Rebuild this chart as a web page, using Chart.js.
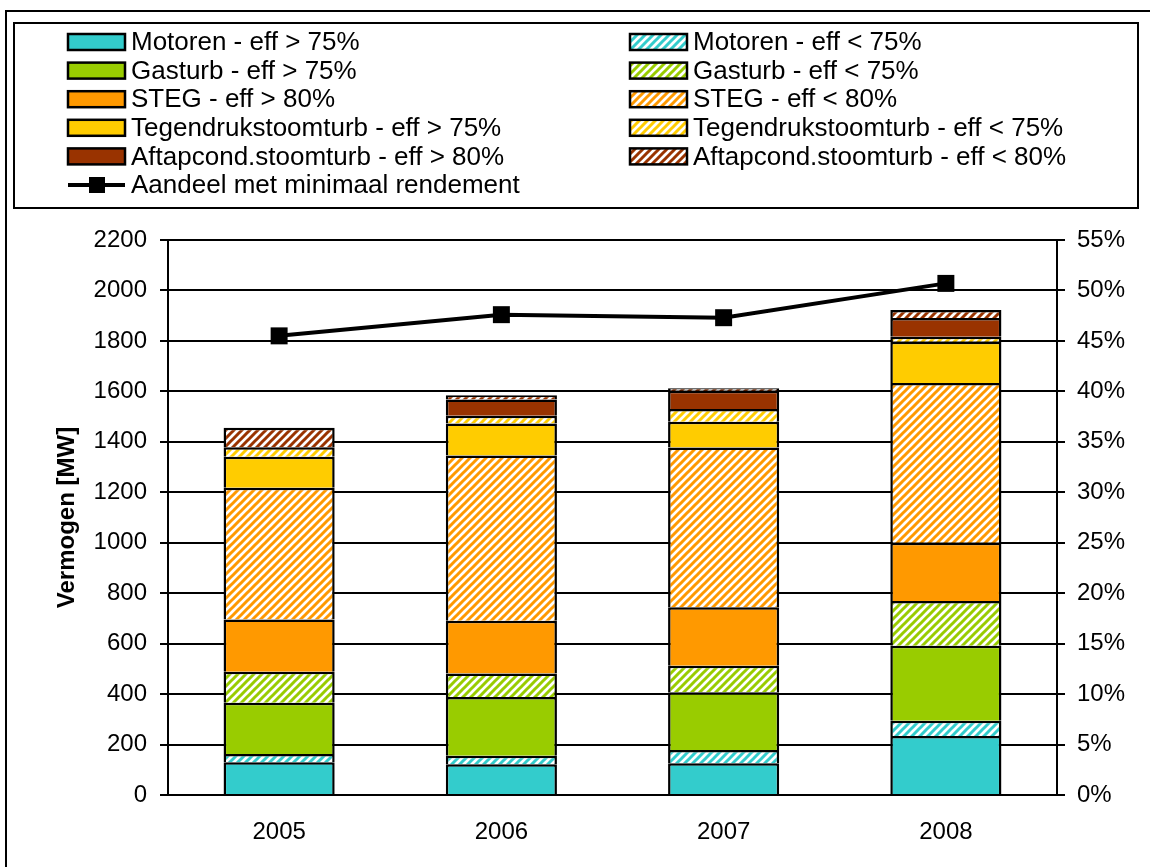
<!DOCTYPE html>
<html><head><meta charset="utf-8">
<script src="https://cdn.jsdelivr.net/npm/chart.js@4/dist/chart.umd.min.js"></script>
<style>html,body{margin:0;padding:0;background:#fff;overflow:hidden}</style>
</head><body>
<canvas id="c" width="1150" height="867" style="display:block;width:1150px;height:867px"></canvas>
<script>
const years = ['2005', '2006', '2007', '2008'];
const motorenHigh = [130, 122, 126, 234];
const motorenLow = [33, 34, 52, 60];
const gasturbHigh = [203, 232, 229, 298];
const gasturbLow = [123, 94, 105, 177];
const stegHigh = [207, 209, 232, 231];
const stegLow = [522, 655, 633, 633];
const tegenHigh = [123, 127, 103, 164];
const tegenLow = [37, 30, 50, 19];
const aftapHigh = [0, 65, 72, 75];
const aftapLow = [78, 17, 10, 32];
const aandeel = [45.5, 47.6, 47.3, 50.7];
const leftAxis = { min: 0, max: 2200, step: 200 };
const rightAxis = { min: 0, max: 55, step: 5 };

const FONT = "'Liberation Sans', Arial, sans-serif";
Chart.defaults.font.family = FONT;
Chart.defaults.color = '#000';

function hatch(color) {
  const s = 8;
  const c = document.createElement('canvas');
  c.width = s; c.height = s;
  const g = c.getContext('2d');
  g.fillStyle = '#fff';
  g.fillRect(0, 0, s, s);
  g.strokeStyle = color;
  g.lineWidth = 3;
  g.lineCap = 'square';
  g.beginPath();
  g.moveTo(-2, s + 2); g.lineTo(s + 2, -2);
  g.moveTo(-2, 2); g.lineTo(2, -2);
  g.moveTo(s - 2, s + 2); g.lineTo(s + 2, s - 2);
  g.stroke();
  return g.createPattern(c, 'repeat');
}
const ctx = document.getElementById('c').getContext('2d');

const C = { cyan: '#33CCCC', green: '#99CC00', orange: '#FF9900', yellow: '#FFCC00', brown: '#993300' };

function barDs(label, data, bg) {
  return { type: 'bar', label, data, backgroundColor: bg, borderColor: '#000', borderWidth: 2.5,
    yAxisID: 'y', stack: 's', order: 1, barPercentage: 0.5, categoryPercentage: 1.0 };
}

const datasets = [
  barDs('Motoren - eff > 75%', motorenHigh, C.cyan),
  barDs('Motoren - eff < 75%', motorenLow, hatch(C.cyan)),
  barDs('Gasturb - eff > 75%', gasturbHigh, C.green),
  barDs('Gasturb - eff < 75%', gasturbLow, hatch(C.green)),
  barDs('STEG - eff > 80%', stegHigh, C.orange),
  barDs('STEG - eff < 80%', stegLow, hatch(C.orange)),
  barDs('Tegendrukstoomturb - eff > 75%', tegenHigh, C.yellow),
  barDs('Tegendrukstoomturb - eff < 75%', tegenLow, hatch(C.yellow)),
  barDs('Aftapcond.stoomturb - eff > 80%', aftapHigh, C.brown),
  barDs('Aftapcond.stoomturb - eff < 80%', aftapLow, hatch(C.brown)),
  { type: 'line', label: 'Aandeel met minimaal rendement', data: aandeel, yAxisID: 'y1', order: 0,
    borderColor: '#000', borderWidth: 4, backgroundColor: '#000', pointStyle: 'rect',
    pointRadius: 12, pointBackgroundColor: '#000', pointBorderColor: '#000', pointBorderWidth: 0,
    tension: 0, fill: false }
];

const framePlugin = {
  id: 'frameLegend',
  afterDraw(chart) {
    const g = chart.ctx;
    g.save();
    g.strokeStyle = '#000';
    g.lineWidth = 2;
    g.strokeRect(6, 11, 1300, 1000);
    g.strokeRect(14, 23, 1124, 185);
    const ds = chart.data.datasets;
    const rowY = i => 42 + i * 28.6;
    g.font = '26px ' + FONT;
    g.textBaseline = 'middle';
    g.fillStyle = '#000';
    for (let i = 0; i < 10; i++) {
      const col = i % 2, row = Math.floor(i / 2);
      const sx = col === 0 ? 68 : 630;
      const y = rowY(row);
      g.fillStyle = ds[i].backgroundColor;
      g.fillRect(sx, y - 8, 57, 16);
      g.lineWidth = 2.5;
      g.strokeStyle = '#000';
      g.strokeRect(sx, y - 8, 57, 16);
      g.fillStyle = '#000';
      g.fillText(ds[i].label, sx + 63, y + 1);
    }
    const y = rowY(5);
    g.lineWidth = 4;
    g.beginPath(); g.moveTo(68, y); g.lineTo(125, y); g.stroke();
    g.fillRect(89, y - 8, 16, 16);
    g.fillText(ds[10].label, 131, y + 1);
    g.restore();
  }
};

new Chart(ctx, {
  data: { labels: years, datasets },
  options: {
    responsive: false, animation: false, devicePixelRatio: 1,
    layout: { padding: { left: 40, right: 0, top: 240, bottom: 0 } },
    plugins: { legend: { display: false }, tooltip: { enabled: false } },
    scales: {
      x: {
        stacked: true, offset: true,
        grid: { display: false },
        border: { display: true, color: '#000', width: 2 },
        ticks: { font: { size: 24 }, color: '#000', padding: 15 },
        afterFit: s => { s.height = 72; }
      },
      y: {
        stacked: true, position: 'left', min: leftAxis.min, max: leftAxis.max,
        ticks: { stepSize: leftAxis.step, font: { size: 24 }, color: '#000', padding: 13, callback: v => String(v) },
        grid: { color: '#000', lineWidth: 2, tickLength: 8, drawTicks: true },
        border: { color: '#000', width: 2 },
        title: { display: true, text: 'Vermogen [MW]', font: { size: 24, weight: 'bold' }, color: '#000', padding: { top: 13, bottom: 0 } },
        afterFit: s => { s.width = 128; }
      },
      y1: {
        position: 'right', min: rightAxis.min, max: rightAxis.max,
        ticks: { stepSize: rightAxis.step, font: { size: 24 }, color: '#000', padding: 12, callback: v => v + '%' },
        grid: { drawOnChartArea: false, color: '#000', lineWidth: 2, tickLength: 8, drawTicks: true },
        border: { color: '#000', width: 2 },
        afterFit: s => { s.width = 93; }
      }
    }
  },
  plugins: [framePlugin]
});
</script>
</body></html>
